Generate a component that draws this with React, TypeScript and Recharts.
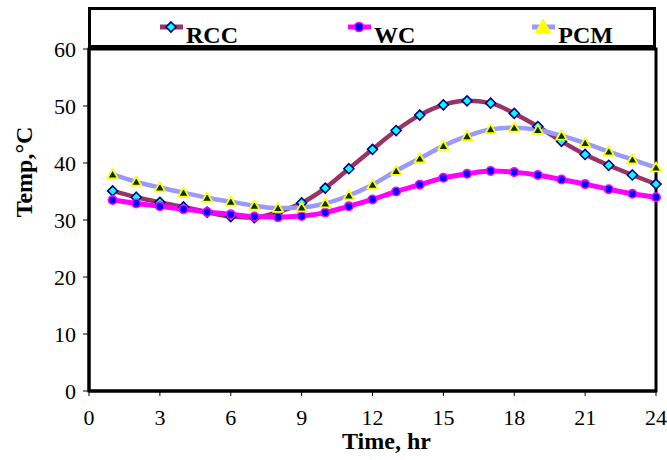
import React from 'react';
import { LineChart, Line, XAxis, YAxis, ReferenceArea, Legend, Label } from 'recharts';

const hours = [1, 2, 3, 4, 5, 6, 7, 8, 9, 10, 11, 12, 13, 14, 15, 16, 17, 18, 19, 20, 21, 22, 23, 24];
const rcc = [35.1, 34.0, 33.1, 32.3, 31.4, 30.6, 30.4, 31.4, 33.0, 35.6, 39.0, 42.4, 45.7, 48.4, 50.2, 50.9, 50.5, 48.7, 46.4, 43.8, 41.5, 39.6, 37.9, 36.3];
const wc = [33.5, 32.9, 32.4, 31.9, 31.4, 31.0, 30.6, 30.5, 30.7, 31.3, 32.4, 33.6, 35.0, 36.2, 37.4, 38.1, 38.6, 38.4, 37.9, 37.1, 36.3, 35.4, 34.6, 34.0];
const pcm = [38.0, 36.7, 35.7, 34.8, 33.9, 33.2, 32.5, 32.1, 32.2, 32.9, 34.3, 36.2, 38.6, 40.8, 43.0, 44.7, 45.9, 46.2, 45.8, 44.8, 43.5, 42.0, 40.6, 39.2];
const xTicks = [0, 3, 6, 9, 12, 15, 18, 21, 24];
const yTicks = [0, 10, 20, 30, 40, 50, 60];
const seriesNames = ['RCC', 'WC', 'PCM'];

const data = hours.map((h, i) => ({ hour: h, RCC: rcc[i], WC: wc[i], PCM: pcm[i] }));

const FONT = "'Liberation Serif', serif";

const COLORS: Record<string, string> = { RCC: '#993366', WC: '#FF00FF', PCM: '#9999FF' };

const Diamond = (cx: number, cy: number, r: number, key?: string) => (
  <path
    key={key}
    d={`M${cx},${cy - r} L${cx + r},${cy} L${cx},${cy + r} L${cx - r},${cy} Z`}
    fill="#00FFFF"
    stroke="#000080"
    strokeWidth={1.6}
  />
);
const Circle = (cx: number, cy: number, r: number, key?: string) => (
  <circle key={key} cx={cx} cy={cy} r={r} fill="#0000FF" stroke="#FF00FF" strokeWidth={1.6} />
);
const Triangle = (cx: number, cy: number, r: number, key?: string, fill = '#003300') => (
  <path
    key={key}
    d={`M${cx},${cy - r} L${cx + r},${cy + r * 0.75} L${cx - r},${cy + r * 0.75} Z`}
    fill={fill}
    stroke="#FFFF00"
    strokeWidth={1.8}
    strokeLinejoin="round"
  />
);

const renderDot = (name: string) => (props: any) => {
  const { cx, cy, index } = props;
  const key = `${name}-${index}`;
  if (cx == null || cy == null) return <g key={key} />;
  if (name === 'RCC') return Diamond(cx, cy, 5, key);
  if (name === 'WC') return Circle(cx, cy, 4.2, key);
  return Triangle(cx, cy, 5.2, key);
};

const XTick = (props: any) => (
  <text
    x={props.x}
    y={props.y}
    dy="0.71em"
    textAnchor="middle"
    fill="#000"
    style={{ fontFamily: FONT, fontSize: 22 }}
  >
    {props.payload.value}
  </text>
);

const YTick = (props: any) => (
  <text
    x={props.x}
    y={props.y}
    dy="0.355em"
    textAnchor="end"
    fill="#000"
    style={{ fontFamily: FONT, fontSize: 22 }}
  >
    {props.payload.value}
  </text>
);

const itemGaps = [69, 110, 117];

const LegendBox = () => (
  <div
    style={{
      width: 568,
      height: 41,
      border: '3px solid #000',
      boxSizing: 'border-box',
      display: 'flex',
      alignItems: 'flex-start',
      background: '#fff',
    }}
  >
    {seriesNames.map((n, i) => (
      <div key={n} style={{ display: 'flex', alignItems: 'flex-start', marginLeft: itemGaps[i] }}>
        <svg width={23} height={16} style={{ marginTop: 9, display: 'block' }}>
          <line x1={0} y1={8} x2={23} y2={8} stroke={COLORS[n]} strokeWidth={5} />
          {n === 'RCC' && Diamond(11, 8, 5)}
          {n === 'WC' && Circle(11, 8, 4.5)}
          {n === 'PCM' && Triangle(11, 8, 7, undefined, '#FFFF00')}
        </svg>
        <span
          style={{
            fontFamily: FONT,
            fontWeight: 'bold',
            fontSize: 24,
            lineHeight: '24px',
            marginTop: 13,
            marginLeft: 3,
            color: '#000',
          }}
        >
          {n}
        </span>
      </div>
    ))}
  </div>
);

export default function App() {
  return (
    <div style={{ position: 'absolute', left: 0, top: 0, width: 667, height: 460, background: '#fff', fontFamily: FONT }}>
      <LineChart
        width={667}
        height={460}
        data={data}
        margin={{ top: 8, right: 11, left: 0, bottom: 0 }}
        style={{ fontFamily: FONT }}
      >
        <Legend
          verticalAlign="top"
          content={() => <LegendBox />}
          wrapperStyle={{ position: 'absolute', left: 88, top: 7, width: 568, height: 41 }}
        />
        <XAxis
          dataKey="hour"
          type="number"
          domain={[0, 24]}
          ticks={xTicks}
          height={69}
          tickSize={5}
          tickMargin={13}
          axisLine={{ stroke: '#000', strokeWidth: 3 }}
          tickLine={{ stroke: '#000', strokeWidth: 1 }}
          tick={XTick}
          interval={0}
        >
          <Label
            content={(props: any) => {
              const vb = props.viewBox || { x: 89, y: 391, width: 567 };
              return (
                <text
                  x={vb.x + vb.width / 2 + 14}
                  y={vb.y + 58}
                  textAnchor="middle"
                  style={{ fontFamily: FONT, fontWeight: 'bold', fontSize: 24 }}
                  fill="#000"
                >
                  Time, hr
                </text>
              );
            }}
          />
        </XAxis>
        <YAxis
          type="number"
          domain={[0, 60]}
          ticks={yTicks}
          width={89}
          tickSize={6}
          tickMargin={7}
          axisLine={{ stroke: '#000', strokeWidth: 3 }}
          tickLine={{ stroke: '#000', strokeWidth: 1 }}
          tick={YTick}
          interval={0}
        >
          <Label
            content={() => (
              <text
                transform="translate(32,172) rotate(-90)"
                textAnchor="middle"
                style={{ fontFamily: FONT, fontWeight: 'bold', fontSize: 24 }}
                fill="#000"
              >
                Temp,°C
              </text>
            )}
          />
        </YAxis>
        <ReferenceArea x1={0} x2={24} y1={0} y2={60} fill="none" fillOpacity={0} stroke="#000" strokeWidth={3} ifOverflow="visible" />
        <Line
          dataKey="RCC"
          type="monotone"
          stroke={COLORS.RCC}
          strokeWidth={4.5}
          dot={renderDot('RCC')}
          activeDot={false}
          isAnimationActive={false}
        />
        <Line
          dataKey="WC"
          type="monotone"
          stroke={COLORS.WC}
          strokeWidth={5}
          dot={renderDot('WC')}
          activeDot={false}
          isAnimationActive={false}
        />
        <Line
          dataKey="PCM"
          type="monotone"
          stroke={COLORS.PCM}
          strokeWidth={4.5}
          dot={renderDot('PCM')}
          activeDot={false}
          isAnimationActive={false}
        />
      </LineChart>
    </div>
  );
}
